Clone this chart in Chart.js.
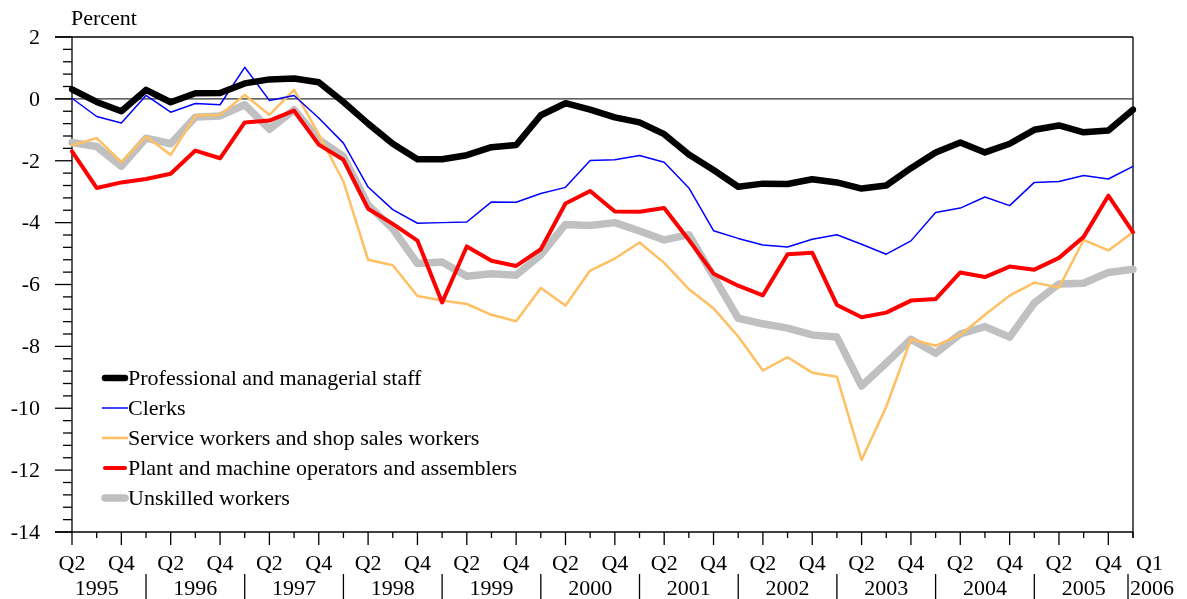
<!DOCTYPE html>
<html>
<head>
<meta charset="utf-8">
<script src="https://cdn.jsdelivr.net/npm/chart.js@4/dist/chart.umd.min.js"></script>
<style>
  html, body { margin: 0; padding: 0; background: #ffffff; }
  #wrap { width: 1187px; height: 599px; }
</style>
</head>
<body>
<div id="wrap"><canvas id="c" width="1187" height="599"></canvas></div>
<script>
// ---- Data (quarterly, 1995 Q2 .. 2006 Q1), percent ----
const periodYears = [1995,1996,1997,1998,1999,2000,2001,2002,2003,2004,2005,2006];
const firstQuarter = 2;   // series starts in Q2 1995
const lastQuarter = 1;    // series ends in Q1 2006

const professional = [0.31, -0.1, -0.4, 0.29, -0.11, 0.18, 0.19, 0.5, 0.63, 0.66,
  0.54, -0.1, -0.8, -1.45, -1.95, -1.95, -1.82, -1.56, -1.49, -0.53,
  -0.14, -0.35, -0.6, -0.76, -1.14, -1.8, -2.3, -2.84, -2.74, -2.75,
  -2.6, -2.7, -2.9, -2.8, -2.24, -1.73, -1.41, -1.73, -1.45, -1.0,
  -0.86, -1.08, -1.02, -0.35];
const clerks = [0.02, -0.57, -0.78, 0.11, -0.43, -0.15, -0.19, 1.02, -0.05, 0.11,
  -0.62, -1.43, -2.85, -3.58, -4.02, -4.0, -3.98, -3.33, -3.34, -3.06,
  -2.86, -1.99, -1.97, -1.83, -2.05, -2.88, -4.26, -4.51, -4.72, -4.79,
  -4.54, -4.39, -4.70, -5.02, -4.59, -3.67, -3.53, -3.17, -3.45, -2.70,
  -2.67, -2.48, -2.59, -2.18];
const service = [-1.5, -1.27, -2.04, -1.22, -1.81, -0.54, -0.52, 0.13, -0.52, 0.29,
  -1.15, -2.67, -5.2, -5.38, -6.37, -6.52, -6.63, -6.98, -7.19, -6.11,
  -6.68, -5.55, -5.16, -4.64, -5.3, -6.15, -6.77, -7.68, -8.78, -8.35,
  -8.85, -8.98, -11.67, -9.95, -7.77, -7.98, -7.63, -6.98, -6.36, -5.94,
  -6.10, -4.56, -4.90, -4.31];
const plant = [-1.7, -2.88, -2.7, -2.59, -2.42, -1.67, -1.92, -0.76, -0.7, -0.38,
  -1.48, -1.97, -3.55, -4.04, -4.58, -6.58, -4.77, -5.23, -5.40, -4.86,
  -3.38, -2.98, -3.64, -3.65, -3.53, -4.56, -5.65, -6.04, -6.35, -5.02,
  -4.97, -6.66, -7.06, -6.91, -6.52, -6.47, -5.61, -5.76, -5.42, -5.52,
  -5.14, -4.46, -3.13, -4.31];
const unskilled = [-1.41, -1.54, -2.18, -1.27, -1.45, -0.59, -0.55, -0.19, -0.98, -0.35,
  -1.32, -1.86, -3.43, -4.2, -5.32, -5.27, -5.73, -5.65, -5.7, -5.04,
  -4.06, -4.09, -4.0, -4.27, -4.56, -4.39, -5.74, -7.09, -7.27, -7.41,
  -7.63, -7.70, -9.28, -8.54, -7.77, -8.22, -7.60, -7.36, -7.70, -6.60,
  -5.98, -5.96, -5.61, -5.51];

const seriesNames = ['Professional and managerial staff', 'Clerks',
  'Service workers and shop sales workers', 'Plant and machine operators and assemblers',
  'Unskilled workers'];
const yTickLabels = [2, 0, -2, -4, -6, -8, -10, -12, -14];
const yAxisTitle = 'Percent';

// ---- Period labels ----
const periods = [];
const periodQuarter = [];
const periodYear = [];
for (const y of periodYears) {
  for (let q = 1; q <= 4; q++) {
    if (y === periodYears[0] && q < firstQuarter) continue;
    if (y === periodYears[periodYears.length - 1] && q > lastQuarter) continue;
    periods.push(y + ' Q' + q);
    periodQuarter.push(q);
    periodYear.push(y);
  }
}

const FONT = '22px "Liberation Serif", "DejaVu Serif", serif';

const framePlugin = {
  id: 'frame',
  beforeDatasetsDraw(chart) {
    const ctx = chart.ctx, xs = chart.scales.x, ys = chart.scales.y;
    const { left: L, right: R, top: T, bottom: B } = chart.chartArea;
    const seg = (x1, y1, x2, y2) => { ctx.beginPath(); ctx.moveTo(x1, y1); ctx.lineTo(x2, y2); ctx.stroke(); };
    ctx.save();
    ctx.strokeStyle = '#000';
    ctx.lineWidth = 1.3;
    ctx.lineCap = 'butt';
    // frame
    seg(L - 17, T, R, T);
    seg(L - 17, B, R, B);
    seg(L, T, L, B);
    seg(R, T, R, B + 6);
    // zero line
    const y0 = ys.getPixelForValue(0);
    ctx.strokeStyle = '#333';
    seg(L - 17, y0, R, y0);
    ctx.strokeStyle = '#000';
    // y ticks: major every 2, minor every 0.4
    for (let k = 0; k <= 40; k++) {
      const v = ys.min + k * 0.4;
      const y = ys.getPixelForValue(v);
      if (k % 5 === 0) seg(L - 17, y, L, y); else seg(L - 9, y, L, y);
    }
    // y labels
    ctx.fillStyle = '#000';
    ctx.font = FONT;
    ctx.textAlign = 'right';
    ctx.textBaseline = 'middle';
    for (const v of yTickLabels) {
      ctx.fillText(String(v), L - 32, ys.getPixelForValue(v) + 1);
    }
    // title
    ctx.textAlign = 'left';
    ctx.textBaseline = 'alphabetic';
    ctx.fillText(yAxisTitle, L - 1, 25);
    // x ticks and labels
    ctx.textBaseline = 'alphabetic';
    for (let i = 0; i < periods.length; i++) {
      const x = xs.getPixelForValue(i);
      const q = periodQuarter[i];
      const len = (q % 2 === 0) ? 13 : 6;
      seg(x, B, x, B + len);
      if (q === 2 || q === 4) {
        ctx.textAlign = 'center';
        ctx.fillText('Q' + q, x, 570);
      } else if (i === periods.length - 1) {
        ctx.textAlign = 'left';
        ctx.fillText('Q' + q, x + 3, 570);
      }
      if (q === 3) {
        ctx.textAlign = 'center';
        ctx.fillText(String(periodYear[i]), x, 595);
      }
      if (q === 1 && i < periods.length - 1) {
        seg(x, 574, x, 599);
      }
      if (i === periods.length - 1) {
        seg(x - 5, 574, x - 5, 599);
        ctx.textAlign = 'left';
        ctx.fillText(String(periodYear[i]), x - 3, 595);
      }
    }
    ctx.restore();
  },
  afterDatasetsDraw(chart) {
    const ctx = chart.ctx;
    ctx.save();
    ctx.font = FONT;
    ctx.textAlign = 'left';
    ctx.textBaseline = 'middle';
    chart.data.datasets.forEach((ds, k) => {
      const y = 378 + k * 30;
      ctx.strokeStyle = ds.borderColor;
      ctx.lineWidth = ds.borderWidth;
      ctx.lineCap = ds.borderWidth > 3 ? 'round' : 'butt';
      ctx.beginPath();
      ctx.moveTo(ds.borderWidth > 3 ? 105 : 102, y);
      ctx.lineTo(ds.borderWidth > 3 ? 125 : 128, y);
      ctx.stroke();
      ctx.fillStyle = '#000';
      ctx.fillText(ds.label, 128, y + 1);
    });
    ctx.restore();
  }
};

const mk = (label, data, color, width, order) => ({
  label, data, borderColor: color, backgroundColor: color, borderWidth: width,
  pointRadius: 0, pointHoverRadius: 0, tension: 0, fill: false,
  borderCapStyle: 'round', borderJoinStyle: 'round', order
});

new Chart(document.getElementById('c'), {
  type: 'line',
  data: {
    labels: periods,
    datasets: [
      mk(seriesNames[0], professional, '#000000', 6.5, 0),
      mk(seriesNames[1], clerks, '#0000ff', 1.5, 1),
      mk(seriesNames[2], service, '#ffbf63', 2.5, 3),
      mk(seriesNames[3], plant, '#ff0000', 4, 2),
      mk(seriesNames[4], unskilled, '#c0c0c0', 7.5, 4)
    ]
  },
  options: {
    responsive: false,
    animation: false,
    events: [],
    layout: { padding: { left: 72, right: 54, top: 37, bottom: 67 } },
    plugins: { legend: { display: false }, tooltip: { enabled: false }, title: { display: false } },
    scales: {
      x: { type: 'category', display: false, offset: false },
      y: { type: 'linear', display: false, min: -14, max: 2 }
    }
  },
  plugins: [framePlugin]
});
</script>
</body>
</html>
